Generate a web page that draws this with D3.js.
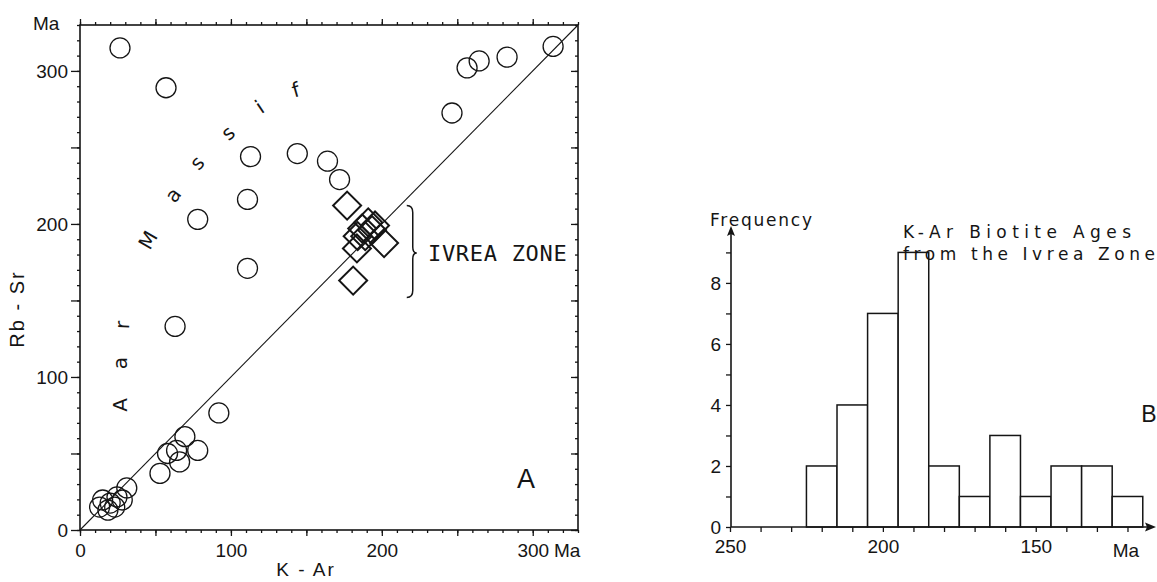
<!DOCTYPE html>
<html>
<head>
<meta charset="utf-8">
<script src="https://cdn.jsdelivr.net/npm/d3@7"></script>
<style>
  body { margin: 0; background: #fff; }
  text { font-family: "Liberation Sans", Arial, sans-serif; fill: #151515; }
</style>
</head>
<body>
<div id="chart"></div>
<script>
// Panel A: K-Ar vs Rb-Sr ages (Ma), Aar Massif circles
const circleKAr  = [26.5, 57, 113, 144, 164, 172, 111, 78, 111, 63, 246.5, 256.5, 264.5, 283, 313.5,
                    92, 69.5, 78, 64, 58, 66, 53, 31, 28, 24.5, 20, 15, 13, 18.5, 23];
const circleRbSr = [315, 289, 244, 246, 241, 229, 216, 203, 171, 133, 272.5, 302, 306.5, 309, 316,
                    76.5, 61, 52, 52, 50, 44.5, 37, 27.5, 19.6, 21.6, 17.6, 19.6, 15, 13, 15];
// Ivrea zone diamonds
const diamondKAr  = [177, 181, 183.5, 201.5, 187, 191, 193.5, 184, 195.5, 189];
const diamondRbSr = [212, 163, 184, 187.5, 197, 201, 196, 192, 199, 192];
const axisTicksA = [0, 100, 200, 300];

// Panel B: histogram of K-Ar biotite ages
const binStart = [225, 215, 205, 195, 185, 175, 165, 155, 145, 135, 125];
const binCount = [2, 4, 7, 9, 2, 1, 3, 1, 2, 2, 1];
const binWidth = 10;
const xTicksB = [250, 200, 150];
const yTicksB = [0, 2, 4, 6, 8];

// "Aar Massif" letters placed along an arc (data units + rotation)
const aarLetters = ["A", "a", "r", "M", "a", "s", "s", "i", "f"];
const aarX = [26.5, 26.5, 28, 45, 61.6, 77.5, 98, 119, 143];
const aarY = [81.7, 109, 134, 189.5, 219, 240, 259.5, 276.5, 287.6];
const aarRot = [-90, -90, -88, -60, -54, -48, -42, -34, -16];

const svg = d3.select("#chart").append("svg")
    .attr("width", 1157)
    .attr("height", 582);

const ink = "#151515";

// ---------- Panel A ----------
const xA = d3.scaleLinear().domain([0, 330]).range([80, 578]);
const yA = d3.scaleLinear().domain([0, 330]).range([530, 25]);
const minorA = d3.range(0, 331, 10);
const majorA = d3.range(0, 331, 50);

function styleAxis(g, fontSize) {
    g.select(".domain").remove();
    g.selectAll("line").attr("stroke", ink).attr("stroke-width", 1.3);
    g.selectAll("text").attr("font-family", "Liberation Sans, Arial, sans-serif")
        .attr("font-size", fontSize).attr("fill", ink);
}

// bottom
svg.append("g").attr("transform", "translate(0,530)")
    .call(d3.axisBottom(xA).tickValues(minorA).tickSize(3).tickFormat(""))
    .call(g => styleAxis(g, 19));
svg.append("g").attr("transform", "translate(0,530)")
    .call(d3.axisBottom(xA).tickValues(majorA).tickSize(6).tickPadding(8)
        .tickFormat(d => axisTicksA.includes(d) ? d : ""))
    .call(g => styleAxis(g, 19));
// left
svg.append("g").attr("transform", "translate(80,0)")
    .call(d3.axisLeft(yA).tickValues(minorA).tickSize(3).tickFormat(""))
    .call(g => styleAxis(g, 19));
svg.append("g").attr("transform", "translate(80,0)")
    .call(d3.axisLeft(yA).tickValues(majorA).tickSize(9).tickPadding(3)
        .tickFormat(d => axisTicksA.includes(d) ? d : ""))
    .call(g => styleAxis(g, 19));
// top
svg.append("g").attr("transform", "translate(0,25)")
    .call(d3.axisTop(xA).tickValues(minorA).tickSize(3).tickFormat(""))
    .call(g => styleAxis(g, 19));
svg.append("g").attr("transform", "translate(0,25)")
    .call(d3.axisTop(xA).tickValues(majorA).tickSize(6).tickFormat(""))
    .call(g => styleAxis(g, 19));
// right
svg.append("g").attr("transform", "translate(578,0)")
    .call(d3.axisRight(yA).tickValues(minorA).tickSize(-3).tickFormat(""))
    .call(g => styleAxis(g, 19));
svg.append("g").attr("transform", "translate(578,0)")
    .call(d3.axisRight(yA).tickValues(majorA).tickSize(-7).tickFormat(""))
    .call(g => styleAxis(g, 19));

svg.append("rect")
    .attr("x", xA(0)).attr("y", yA(330))
    .attr("width", xA(330) - xA(0)).attr("height", yA(0) - yA(330))
    .attr("fill", "none").attr("stroke", ink).attr("stroke-width", 1.6);

// 1:1 line
svg.append("line")
    .attr("x1", xA(0)).attr("y1", yA(0))
    .attr("x2", xA(330)).attr("y2", yA(330))
    .attr("stroke", ink).attr("stroke-width", 1.1);

// circles
svg.append("g").selectAll("circle")
    .data(circleKAr.map((k, i) => ({ k: k, r: circleRbSr[i] })))
    .enter().append("circle")
    .attr("cx", d => xA(d.k))
    .attr("cy", d => yA(d.r))
    .attr("r", 10)
    .attr("fill", "none")
    .attr("stroke", ink)
    .attr("stroke-width", 1.3);

// diamonds
const diamond = d3.symbol().type(d3.symbolSquare).size(392);
svg.append("g").selectAll("path")
    .data(diamondKAr.map((k, i) => ({ k: k, r: diamondRbSr[i] })))
    .enter().append("path")
    .attr("d", diamond)
    .attr("transform", d => `translate(${xA(d.k)},${yA(d.r)}) rotate(45)`)
    .attr("fill", "none")
    .attr("stroke", ink)
    .attr("stroke-width", 2);

// Aar Massif lettering
svg.append("g").selectAll("text")
    .data(aarLetters)
    .enter().append("text")
    .attr("transform", (d, i) => `translate(${xA(aarX[i])},${yA(aarY[i])}) rotate(${aarRot[i]})`)
    .attr("text-anchor", "middle")
    .attr("dy", "0.35em")
    .style("font-family", "'DejaVu Sans', sans-serif")
    .style("font-size", "20px")
    .text(d => d);

// Ivrea zone bracket + label
const bx = xA(220.5), bTop = yA(212), bBot = yA(152), bMid = yA(181);
svg.append("path")
    .attr("d", `M${bx - 6},${bTop} Q${bx},${bTop} ${bx},${bTop + 7} L${bx},${bMid - 6} Q${bx},${bMid} ${bx + 4},${bMid} ` +
               `Q${bx},${bMid} ${bx},${bMid + 6} L${bx},${bBot - 7} Q${bx},${bBot} ${bx - 6},${bBot}`)
    .attr("fill", "none").attr("stroke", ink).attr("stroke-width", 1.5);

svg.append("text")
    .attr("x", xA(230.6)).attr("y", 261)
    .style("font-family", "'DejaVu Sans Mono', monospace")
    .style("font-size", "22px")
    .style("letter-spacing", "0.7px")
    .text("IVREA ZONE");

svg.append("text").attr("x", 526).attr("y", 488)
    .attr("text-anchor", "middle").style("font-size", "27px").text("A");

svg.append("text").attr("x", 33).attr("y", 30).style("font-size", "19px").text("Ma");
svg.append("text").attr("x", 554).attr("y", 557).style("font-size", "19px").text("Ma");

svg.append("text")
    .attr("transform", "translate(24,309) rotate(-90)")
    .attr("text-anchor", "middle")
    .style("font-size", "20px").style("letter-spacing", "2px")
    .text("Rb - Sr");

svg.append("text")
    .attr("x", 306).attr("y", 576)
    .attr("text-anchor", "middle")
    .style("font-size", "19px").style("letter-spacing", "2px")
    .text("K - Ar");

// ---------- Panel B ----------
const xB = d3.scaleLinear().domain([250, 111]).range([730, 1155]);
const yB = d3.scaleLinear().domain([0, 9.8]).range([527, 228]);

svg.append("g").selectAll("rect")
    .data(binStart.map((s, i) => ({ s: s, n: binCount[i] })))
    .enter().append("rect")
    .attr("x", d => xB(d.s))
    .attr("y", d => yB(d.n))
    .attr("width", d => xB(d.s - binWidth) - xB(d.s))
    .attr("height", d => yB(0) - yB(d.n))
    .attr("fill", "#fff")
    .attr("stroke", ink)
    .attr("stroke-width", 1.5);

svg.append("g").attr("transform", "translate(0,527)")
    .call(d3.axisBottom(xB).tickValues(d3.range(250, 119, -10)).tickSize(5).tickPadding(8)
        .tickFormat(d => xTicksB.includes(d) ? d : ""))
    .call(g => styleAxis(g, 19));

svg.append("g").attr("transform", "translate(731,0)")
    .call(d3.axisLeft(yB).tickValues(d3.range(0, 10)).tickSize(5).tickPadding(5)
        .tickFormat(d => yTicksB.includes(d) ? d : ""))
    .call(g => styleAxis(g, 19));

// axis lines with arrows
svg.append("line").attr("x1", 731).attr("y1", 527).attr("x2", 1150).attr("y2", 527)
    .attr("stroke", ink).attr("stroke-width", 1.6);
svg.append("path").attr("d", "M1156,527 L1145,522.5 L1147,527 L1145,531.5 Z").attr("fill", ink);
svg.append("line").attr("x1", 731).attr("y1", 527).attr("x2", 731).attr("y2", 232)
    .attr("stroke", ink).attr("stroke-width", 1.6);
svg.append("path").attr("d", "M731,226 L727,236 L731,234 L735,236 Z").attr("fill", ink);

svg.append("text").attr("x", 710).attr("y", 226)
    .attr("textLength", 102).attr("lengthAdjust", "spacing")
    .style("font-family", "'DejaVu Sans', sans-serif")
    .style("font-size", "17px").text("Frequency");
svg.append("text").attr("x", 903).attr("y", 238)
    .attr("textLength", 228).attr("lengthAdjust", "spacing")
    .style("font-family", "'DejaVu Sans', sans-serif")
    .style("font-size", "17px").text("K-Ar Biotite Ages");
svg.append("text").attr("x", 903).attr("y", 260)
    .attr("textLength", 252).attr("lengthAdjust", "spacing")
    .style("font-family", "'DejaVu Sans', sans-serif")
    .style("font-size", "17px").text("from the Ivrea Zone");

svg.append("text").attr("x", 1126).attr("y", 557)
    .attr("text-anchor", "middle").style("font-size", "19px").text("Ma");
svg.append("text").attr("x", 1149).attr("y", 422)
    .attr("text-anchor", "middle").style("font-size", "23px").text("B");
</script>
</body>
</html>
